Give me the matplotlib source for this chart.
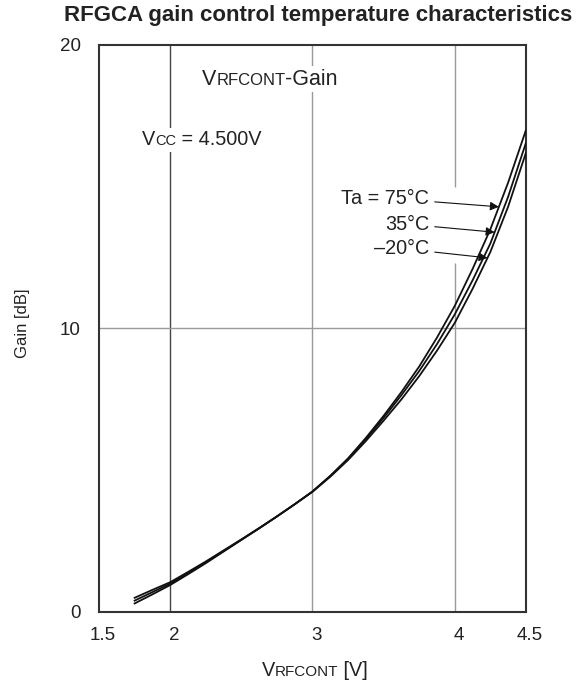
import numpy as np
import matplotlib
matplotlib.use("Agg")
from matplotlib import pyplot as plt
from matplotlib import transforms
from matplotlib.offsetbox import TextArea, HPacker, AnnotationBbox

plt.rcParams['font.family'] = ['Liberation Sans', 'DejaVu Sans']

# values
VRFCONT = [1.75, 1.875, 2.0, 2.125, 2.25, 2.375, 2.5, 2.625, 2.75, 2.875,
           3.0, 3.125, 3.25, 3.375, 3.5, 3.625, 3.75, 3.875, 4.0, 4.125,
           4.25, 4.375, 4.5]
GAIN_75 = [0.30, 0.62, 0.95, 1.33, 1.72, 2.13, 2.54, 2.95, 3.37, 3.80,
           4.25, 4.80, 5.42, 6.14, 6.92, 7.76, 8.66, 9.68, 10.80, 12.10,
           13.50, 15.15, 17.00]
GAIN_35 = [0.40, 0.70, 1.00, 1.37, 1.75, 2.15, 2.55, 2.95, 3.37, 3.80,
           4.25, 4.80, 5.40, 6.10, 6.85, 7.65, 8.50, 9.45, 10.50, 11.70,
           13.00, 14.65, 16.55]
GAIN_M20 = [0.50, 0.78, 1.05, 1.41, 1.78, 2.17, 2.56, 2.96, 3.37, 3.80,
            4.24, 4.77, 5.36, 6.03, 6.75, 7.50, 8.32, 9.22, 10.20, 11.40,
            12.70, 14.30, 16.20]
TEMP_LABELS = ["Ta = 75°C", "35°C", "\u201320°C"]

X_TICKS = [1.5, 2, 3, 4, 4.5]
X_TICK_LABELS = ["1.5", "2", "3", "4", "4.5"]
Y_TICKS = [0, 10, 20]
Y_TICK_LABELS = ["0", "10", "20"]

TXT = "#222222"


def smallcaps(parts, color=TXT):
    # parts: list of (text, size)
    boxes = [TextArea(t, textprops=dict(size=s, color=color)) for t, s in parts]
    return HPacker(children=boxes, align="baseline", pad=0, sep=0)


def main():
    fig = plt.figure(figsize=(5.87, 6.87), dpi=100)
    ax = fig.add_axes([0.1687, 0.1092, 0.7273, 0.8253])
    ax.set_xlim(1.5, 4.5)
    ax.set_ylim(0, 20)

    # grid (broken where the labels sit)
    ax.vlines(2, 0, 20, color="#444444", lw=1.0, zorder=1)
    ax.vlines(3, 0, 20, color="#999999", lw=1.0, zorder=1)
    ax.vlines(4, 0, 12.3, color="#999999", lw=1.0, zorder=1)
    ax.vlines(4, 15.0, 20, color="#999999", lw=1.0, zorder=1)
    ax.hlines(10, 1.5, 4.5, color="#999999", lw=1.0, zorder=1)

    curves = [GAIN_75, GAIN_35, GAIN_M20]
    for g in curves:
        ax.plot(VRFCONT, g, color="#111111", lw=1.3, zorder=3)

    # temperature labels with arrows
    tips = [4.31, 4.28, 4.23]
    starts = [14.6, 13.68, 12.82]
    for lab, g, tx, sy in zip(TEMP_LABELS, curves, tips, starts):
        ty = np.interp(tx, VRFCONT, g)
        ax.annotate(lab, xy=(tx, ty), xytext=(3.82, sy),
                    ha="right", va="center", fontsize=14.3, color=TXT,
                    arrowprops=dict(arrowstyle="-|>", color="#111111", lw=0.8,
                                    mutation_scale=13, shrinkA=2, shrinkB=0),
                    zorder=4)

    # in-plot captions
    cap = smallcaps([("V", 15.5), ("RFCONT", 12), ("-Gain", 15.5)])
    ab = AnnotationBbox(cap, (2.70, 18.8), xycoords="data", frameon=True,
                        bboxprops=dict(facecolor="white", edgecolor="none"),
                        pad=0.2, box_alignment=(0.5, 0.5), zorder=2)
    ax.add_artist(ab)
    vcc = smallcaps([("V", 14.3), ("CC", 10.5), (" = 4.500V", 14.3)])
    ab = AnnotationBbox(vcc, (1.80, 16.65), xycoords="data", frameon=True,
                        bboxprops=dict(facecolor="white", edgecolor="none"),
                        pad=0.2, box_alignment=(0.0, 0.5), zorder=2)
    ax.add_artist(ab)

    ax.set_xticks(X_TICKS)
    ax.set_xticklabels(X_TICK_LABELS)
    ax.set_yticks(Y_TICKS)
    ax.set_yticklabels(Y_TICK_LABELS)
    ax.tick_params(length=0, labelsize=13.5, colors=TXT)
    ax.tick_params(axis="x", pad=11)
    ax.tick_params(axis="y", pad=13)
    shift = transforms.ScaledTranslation(4 / 100, 0, fig.dpi_scale_trans)
    for lbl in ax.get_xticklabels():
        lbl.set_transform(lbl.get_transform() + shift)
    for s in ax.spines.values():
        s.set_linewidth(1.5)
        s.set_color("#333333")

    fig.text(22 / 587, 1 - 323 / 687, "Gain [dB]", rotation=90,
             ha="center", va="center", fontsize=12, color=TXT)
    xl = smallcaps([("V", 14.3), ("RFCONT", 11), (" [V]", 14.3)])
    ab = AnnotationBbox(xl, (315 / 587, 1 - 671 / 687),
                        xycoords="figure fraction",
                        frameon=False, box_alignment=(0.5, 0.5))
    fig.add_artist(ab)

    fig.text(318 / 587, 1 - 15 / 687,
             "RFGCA gain control temperature characteristics",
             ha="center", va="center", fontsize=16, fontweight="bold",
             color=TXT)

    fig.savefig("out.png", dpi=100)


if __name__ == "__main__":
    main()
